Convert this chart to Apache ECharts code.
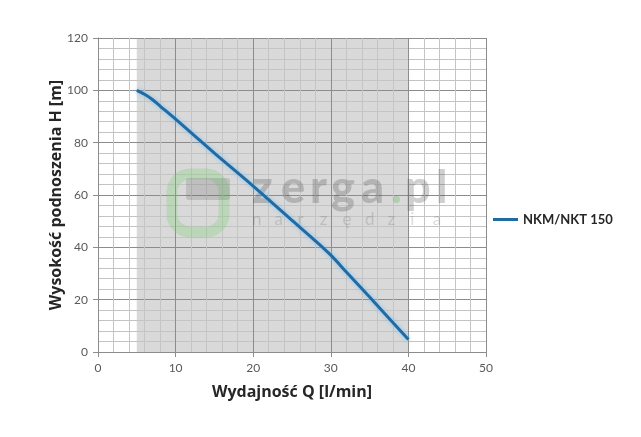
<!DOCTYPE html>
<html><head><meta charset="utf-8">
<script src="https://cdn.jsdelivr.net/npm/echarts@6/dist/echarts.min.js"></script>
<style>html,body{margin:0;padding:0;background:#fff}#c{width:641px;height:437px}</style>
</head><body><div id="c"></div>
<script>
var seriesName = 'NKM/NKT 150';
var flowQ = [5, 6, 7, 8, 10, 15, 20, 25, 28, 30, 32, 35, 40];
var headH = [100, 98.5, 96.5, 94, 89, 76, 63.4, 50.3, 42.5, 37, 30.6, 21, 4.8];
var shadeRange = [5, 40];
var xTitle = 'Wydajność Q [l/min]';
var yTitle = 'Wysokość podnoszenia H [m]';
var wmTop = ['z', 'e', 'r', 'g', 'a', '.', 'p', 'l'];
var wmTopX = [252, 281, 310, 331, 361, 391, 405, 436];
var wmBottom = 'narzędzia'.split('');

var chart = echarts.init(document.getElementById('c'), null, {renderer: 'canvas'});
var data = flowQ.map(function (q, i) { return [q, headH[i]]; });

var graphics = [
  {type: 'rect', z: 3, silent: true, shape: {x: 172, y: 174, width: 52, height: 58, r: 18},
   style: {fill: 'none', stroke: 'rgba(110,210,100,0.28)', lineWidth: 11}},
  {type: 'rect', z: 3, silent: true, shape: {x: 186, y: 178, width: 44, height: 22, r: 3},
   style: {fill: 'rgba(90,90,90,0.2)'}}
];
wmTop.forEach(function (ch, i) {
  graphics.push({type: 'text', x: wmTopX[i], y: 166, z: 3, silent: true,
    style: {text: ch, fontFamily: 'Lato', fontWeight: 900, fontSize: 45,
      fill: ch === '.' ? 'rgba(90,180,80,0.3)' : 'rgba(70,70,70,0.26)'}});
});
wmBottom.forEach(function (ch, i) {
  graphics.push({type: 'text', x: 252 + i * 22.6, y: 211, z: 3, silent: true,
    style: {text: ch, fontFamily: 'Lato', fontSize: 17, fill: 'rgba(80,80,80,0.2)'}});
});

chart.setOption({
  animation: false,
  grid: {left: 98, right: 155, top: 38, bottom: 85, z: 2},
  xAxis: {
    type: 'value', min: 0, max: 50, interval: 10, z: 2,
    name: xTitle, nameLocation: 'middle', nameGap: 32, nameMoveOverlap: false,
    nameTextStyle: {fontFamily: 'Open Sans', fontWeight: 'bold', fontSize: 16, color: '#262626'},
    axisLine: {show: true, lineStyle: {color: '#8c8c8c', width: 1}},
    axisTick: {show: true, length: 5, lineStyle: {color: '#8c8c8c'}},
    axisLabel: {fontFamily: 'Lato', fontSize: 12, color: '#595959', margin: 10},
    splitLine: {show: true, lineStyle: {color: '#8c8c8c', width: 1}},
    minorTick: {show: false, splitNumber: 5},
    minorSplitLine: {show: true, lineStyle: {color: '#c4c4c4', width: 1}}
  },
  yAxis: {
    type: 'value', min: 0, max: 120, interval: 20, z: 2,
    name: yTitle, nameLocation: 'middle', nameGap: 34, nameMoveOverlap: false,
    nameTextStyle: {fontFamily: 'Open Sans', fontWeight: 'bold', fontSize: 16, color: '#262626'},
    axisLine: {show: true, lineStyle: {color: '#8c8c8c', width: 1}},
    axisTick: {show: true, length: 5, lineStyle: {color: '#8c8c8c'}},
    axisLabel: {fontFamily: 'Lato', fontSize: 12, color: '#595959', margin: 10},
    splitLine: {show: true, lineStyle: {color: '#8c8c8c', width: 1}},
    minorTick: {show: false, splitNumber: 5},
    minorSplitLine: {show: true, lineStyle: {color: '#c4c4c4', width: 1}}
  },
  legend: {
    data: [seriesName], orient: 'vertical', left: 488, top: 208,
    itemWidth: 25, itemHeight: 3, itemGap: 4,
    icon: 'rect',
    textStyle: {fontFamily: 'Lato', fontWeight: 'bold', fontSize: 13, color: '#262626'}
  },
  graphic: graphics,
  series: [
    {
      type: 'line', name: 'shade', data: [], z: 0, silent: true,
      markArea: {silent: true, z: 0, itemStyle: {color: '#d9d9d9'},
        data: [[{xAxis: shadeRange[0], yAxis: 0}, {xAxis: shadeRange[1], yAxis: 120}]]}
    },
    {
      type: 'line', name: seriesName, data: data, z: 5,
      smooth: 0.3, showSymbol: false, symbol: 'none',
      itemStyle: {color: '#1f6ba5'},
      lineStyle: {color: '#1f6ba5', width: 3, shadowColor: 'rgba(120,190,240,0.9)', shadowBlur: 4}
    }
  ]
});
</script></body></html>
